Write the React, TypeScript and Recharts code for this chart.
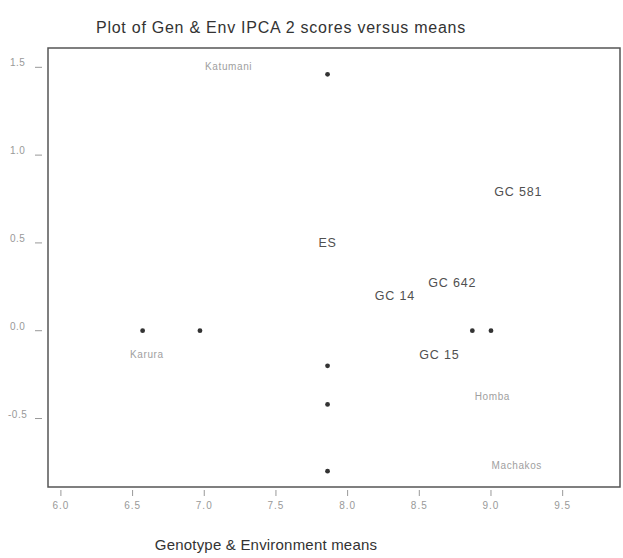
import { ScatterChart, Scatter, XAxis, YAxis, ReferenceArea } from "recharts";

// plotted points (unlabelled markers)
const pointX: number[] = [7.86, 6.57, 6.97, 7.86, 7.86, 7.86, 8.87, 9.0];
const pointY: number[] = [1.46, 0.0, 0.0, -0.2, -0.42, -0.8, 0.0, 0.0];

// genotype labels
const genNames: string[] = ["GC 581", "ES", "GC 642", "GC 14", "GC 15"];
const genX: number[] = [9.19, 7.86, 8.73, 8.33, 8.64];
const genY: number[] = [0.79, 0.5, 0.27, 0.2, -0.14];

// environment labels
const envNames: string[] = ["Katumani", "Karura", "Homba", "Machakos"];
const envX: number[] = [7.17, 6.6, 9.01, 9.18];
const envY: number[] = [1.5, -0.14, -0.38, -0.77];

const xTicks: number[] = [6.0, 6.5, 7.0, 7.5, 8.0, 8.5, 9.0, 9.5];
const yTicks: number[] = [-0.5, 0.0, 0.5, 1.0, 1.5];

const X_DOMAIN: [number, number] = [5.91, 9.9];
const Y_DOMAIN: [number, number] = [-0.89, 1.61];

const FONT = "'Liberation Sans', Arial, sans-serif";

const points = pointX.map((x, i) => ({ x, y: pointY[i] }));
const genLabels = genNames.map((name, i) => ({ name, x: genX[i], y: genY[i] }));
const envLabels = envNames.map((name, i) => ({ name, x: envX[i], y: envY[i] }));

const XTick = (props: any) => {
  const { x, y, payload } = props;
  return (
    <g>
      <line x1={x} x2={x} y1={y + 3} y2={y + 9} stroke="#999" strokeWidth={1} />
      <text x={x} y={y + 22} textAnchor="middle" fontSize={10} letterSpacing={1} fill="#999" fontFamily={FONT}>
        {payload.value.toFixed(1)}
      </text>
    </g>
  );
};

const YTick = (props: any) => {
  const { y, payload } = props;
  return (
    <g>
      <line x1={35} x2={42} y1={y} y2={y} stroke="#999" strokeWidth={1} />
      <text x={payload.value < 0 ? 8 : 10} y={y - 1} fontSize={10} letterSpacing={0.5} fill="#999" fontFamily={FONT}>
        {payload.value.toFixed(1)}
      </text>
    </g>
  );
};

const Dot = (props: any) => <circle cx={props.cx} cy={props.cy} r={2.4} fill="#333" />;

const GenText = (props: any) => (
  <text
    x={props.cx}
    y={props.cy + 4}
    textAnchor="middle"
    fontSize={12.5}
    letterSpacing={0.8}
    fill="#505050"
    fontFamily={FONT}
  >
    {props.payload.name}
  </text>
);

const EnvText = (props: any) => (
  <text
    x={props.cx}
    y={props.cy + 3}
    textAnchor="middle"
    fontSize={10}
    letterSpacing={0.6}
    fill="#a0a0a0"
    fontFamily={FONT}
  >
    {props.payload.name}
  </text>
);

export default function App() {
  return (
    <div style={{ position: "fixed", left: 0, top: 0, width: 623, height: 558, background: "#fff" }}>
      <div
        style={{
          position: "absolute",
          left: 0,
          width: 562,
          top: 19,
          textAlign: "center",
          fontFamily: FONT,
          fontSize: 16,
          letterSpacing: 0.75,
          color: "#333",
          whiteSpace: "nowrap",
        }}
      >
        Plot of Gen &amp; Env IPCA 2 scores versus means
      </div>
      <div
        style={{
          position: "absolute",
          left: 0,
          width: 532,
          top: 536,
          textAlign: "center",
          fontFamily: FONT,
          fontSize: 15,
          letterSpacing: 0.2,
          color: "#333",
          whiteSpace: "nowrap",
        }}
      >
        Genotype &amp; Environment means
      </div>
      <ScatterChart width={623} height={558} margin={{ top: 48, right: 3, bottom: 0, left: 0 }}>
        <XAxis
          type="number"
          dataKey="x"
          domain={X_DOMAIN}
          allowDataOverflow
          ticks={xTicks}
          height={71}
          axisLine={false}
          tickLine={false}
          tickSize={0}
          tickMargin={0}
          tick={<XTick />}
          interval={0}
        />
        <YAxis
          type="number"
          dataKey="y"
          domain={Y_DOMAIN}
          allowDataOverflow
          ticks={yTicks}
          width={48}
          axisLine={false}
          tickLine={false}
          tickSize={0}
          tickMargin={0}
          tick={<YTick />}
          interval={0}
        />
        <ReferenceArea
          x1={X_DOMAIN[0]}
          x2={X_DOMAIN[1]}
          y1={Y_DOMAIN[0]}
          y2={Y_DOMAIN[1]}
          fill="none"
          stroke="#555"
          strokeWidth={1.5}
        />
        <Scatter data={points} shape={<Dot />} isAnimationActive={false} />
        <Scatter data={genLabels} shape={<GenText />} isAnimationActive={false} />
        <Scatter data={envLabels} shape={<EnvText />} isAnimationActive={false} />
      </ScatterChart>
    </div>
  );
}
